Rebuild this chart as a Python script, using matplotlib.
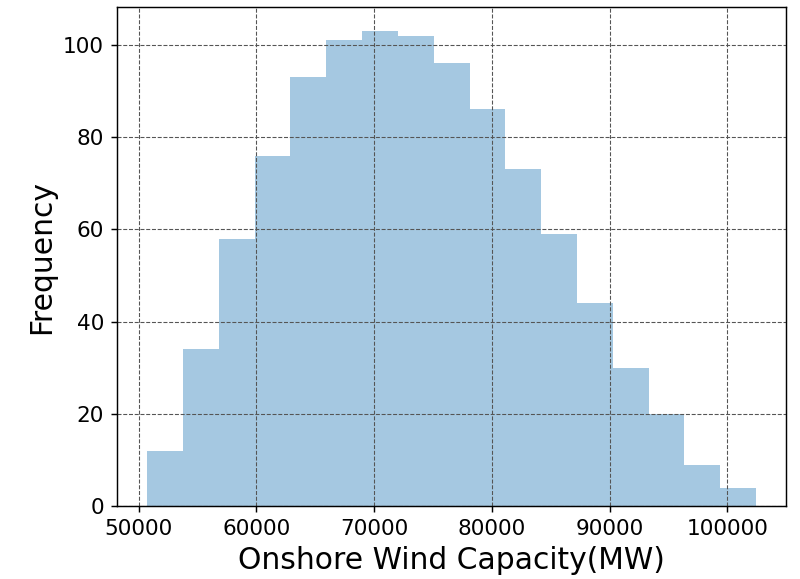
import numpy as np
import matplotlib
matplotlib.use("Agg")
import matplotlib.pyplot as plt

# Histogram of simulated onshore wind capacity (1000 samples, 17 bins)
capacity_min = 50716
capacity_max = 102440
counts = [12, 34, 58, 76, 93, 101, 103, 102, 96, 86, 73, 59, 44, 30, 20, 9, 4]
x_ticks = [50000, 60000, 70000, 80000, 90000, 100000]
y_ticks = [0, 20, 40, 60, 80, 100]

edges = np.linspace(capacity_min, capacity_max, len(counts) + 1)
centers = 0.5 * (edges[:-1] + edges[1:])

dpi = 130
fig = plt.figure(figsize=(800 / dpi, 579 / dpi), dpi=dpi)
ax = fig.add_axes([0.146, 0.1256, 0.837, 0.8618])

ax.hist(centers, bins=edges, weights=counts, color="#1f77b4", alpha=0.4,
        linewidth=0)

ax.grid(True, linestyle="--", color="#555555", linewidth=0.6)
ax.set_xticks(x_ticks)
ax.set_yticks(y_ticks)
ax.tick_params(labelsize=12)
ax.set_xlabel("Onshore Wind Capacity(MW)", fontsize=16.5)
ax.set_ylabel("Frequency", fontsize=16.5)

fig.savefig("out.png", dpi=dpi)
